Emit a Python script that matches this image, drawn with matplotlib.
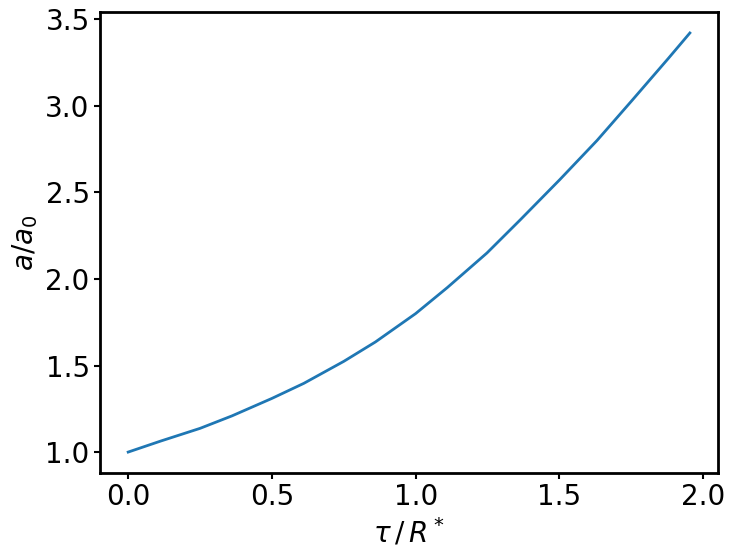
import matplotlib as mpl; mpl.use("Agg")
import matplotlib.pyplot as plt

# values
tau = [0.0, 0.112, 0.25, 0.361, 0.5, 0.611, 0.75, 0.860, 1.0, 1.110,
       1.248, 1.363, 1.501, 1.631, 1.751, 1.878, 1.954]
a_ratio = [1.000, 1.063, 1.137, 1.209, 1.310, 1.397, 1.524, 1.636, 1.800, 1.950,
           2.150, 2.340, 2.573, 2.800, 3.028, 3.272, 3.421]

fig, ax = plt.subplots(figsize=(7.36, 5.59), dpi=100)
fig.subplots_adjust(left=0.136, right=0.9755, top=0.9785, bottom=0.1538)
ax.plot(tau, a_ratio, color="#1f77b4", linewidth=2)

ax.set_xlabel(r"$\tau\,/\,R^*$", fontsize=20)
ax.set_ylabel(r"$a/a_0$", fontsize=20)
ax.tick_params(labelsize=20, width=1.5, length=4)
for s in ax.spines.values():
    s.set_linewidth(2)

fig.savefig("out.png", dpi=100)
